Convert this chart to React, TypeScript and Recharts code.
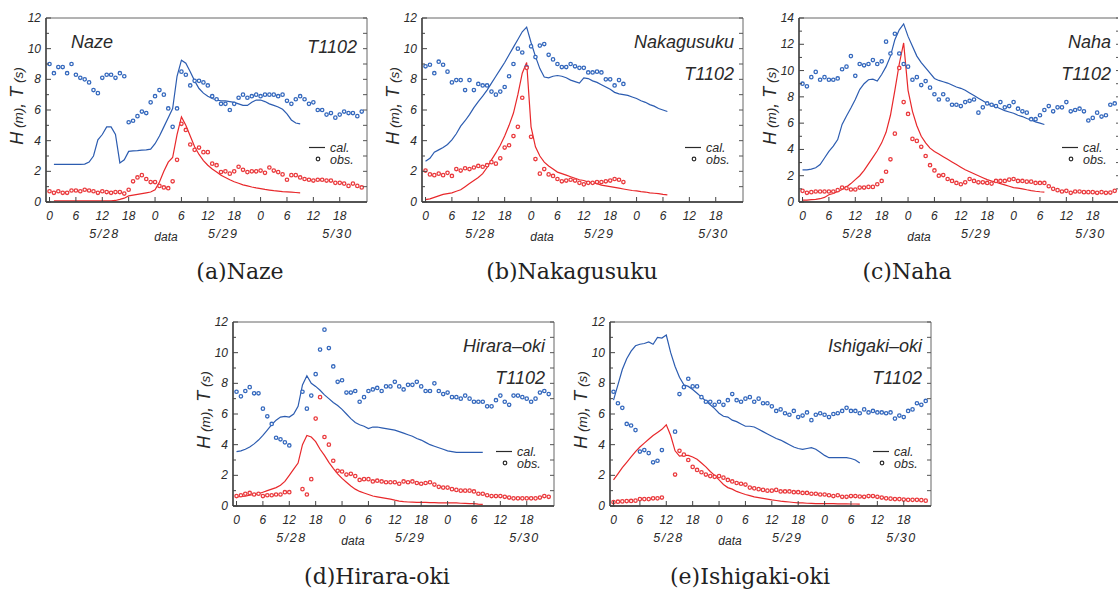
import React from "react";
import {
  ComposedChart,
  Line,
  Scatter,
  XAxis,
  YAxis,
  ReferenceArea,
  ReferenceLine,
  Legend,
} from "recharts";

// hours counted from 5/28 00:00 (JST)
const hourTicks = [0, 6, 12, 18, 24, 30, 36, 42, 48, 54, 60, 66];
const dateTicks = [12.5, 26.5, 39.5, 65.5];
const dateLabels = ["5/28", "data", "5/29", "5/30"];
const yTicks12 = [0, 1, 2, 3, 4, 5, 6, 7, 8, 9, 10, 11, 12];
const yTicks14 = [0, 1, 2, 3, 4, 5, 6, 7, 8, 9, 10, 11, 12, 13, 14];

// ---- (a) Naze : hourly obs from h0, cal from h1
const nazeObsT = [9.0, 8.4, 8.8, 8.8, 8.4, 9.0, 8.3, 8.1, 8.0, 7.8, 7.3, 7.1, 8.1, 8.3, 8.3, 8.1, 8.4, 8.2, 5.2, 5.3, 5.6, 5.9, 5.8, 6.5, 6.9, 7.3, 7.0, 6.1, 4.9, 6.1, 8.5, 8.3, 7.6, 7.9, 7.9, 7.8, 7.6, 6.9, 6.7, 6.4, 6.4, 6.0, 6.4, 6.8, 7.0, 6.8, 6.9, 7.0, 6.9, 7.0, 7.0, 7.0, 6.9, 7.0, 6.6, 6.4, 6.7, 6.9, 6.7, 6.4, 6.5, 6.0, 6.0, 5.7, 5.8, 5.5, 5.7, 5.9, 5.8, 5.8, 5.6, 5.9];
const nazeObsH = [0.7, 0.6, 0.7, 0.6, 0.6, 0.75, 0.75, 0.7, 0.8, 0.75, 0.7, 0.6, 0.7, 0.65, 0.6, 0.65, 0.65, 0.55, 0.8, 1.35, 1.6, 1.75, 1.5, 1.3, 1.3, 1.05, 0.95, 0.9, 1.35, 2.75, 5.1, 4.7, 3.75, 3.4, 3.55, 3.25, 3.25, 2.5, 2.4, 1.95, 2.0, 1.85, 2.0, 2.3, 2.1, 1.95, 2.0, 2.0, 2.05, 1.9, 2.25, 2.05, 1.95, 1.8, 1.45, 1.75, 1.75, 1.6, 1.5, 1.45, 1.4, 1.45, 1.45, 1.4, 1.4, 1.25, 1.25, 1.2, 1.05, 1.2, 1.05, 0.95];
const nazeCalT = [2.45, 2.45, 2.45, 2.45, 2.45, 2.45, 2.45, 2.47, 2.6, 3.0, 4.05, 4.4, 4.9, 4.9, 4.4, 2.55, 2.75, 3.3, 3.33, 3.35, 3.38, 3.4, 3.45, 3.8, 4.3, 4.9, 5.5, 6.1, 8.2, 9.25, 9.05, 8.5, 7.9, 7.4, 7.1, 6.9, 6.75, 6.65, 6.6, 6.6, 6.55, 6.5, 6.4, 6.3, 6.3, 6.5, 6.65, 6.65, 6.55, 6.4, 6.3, 6.2, 6.05, 5.75, 5.35, 5.15, 5.1];
const nazeCalH = [0.08, 0.08, 0.08, 0.08, 0.08, 0.08, 0.08, 0.08, 0.08, 0.08, 0.08, 0.08, 0.08, 0.08, 0.1, 0.17, 0.25, 0.4, 0.45, 0.5, 0.55, 0.6, 0.65, 0.8, 1.3, 2.0, 2.6, 2.9, 4.4, 5.55, 5.0, 4.3, 3.6, 3.1, 2.7, 2.4, 2.15, 1.95, 1.75, 1.6, 1.45, 1.32, 1.22, 1.12, 1.05, 0.98, 0.92, 0.87, 0.82, 0.78, 0.74, 0.71, 0.68, 0.66, 0.64, 0.62, 0.6];

// ---- (b) Nakagusuku
const nakaObsT = [8.85, 8.95, 8.4, 9.15, 8.95, 8.5, 7.8, 7.95, 7.95, 7.3, 7.95, 7.3, 7.7, 7.6, 7.6, 7.2, 7.0, 7.2, 7.5, 8.2, 9.0, 10.0, 9.75, 8.8, 10.15, 9.45, 10.2, 10.3, 9.6, 9.3, 9.0, 8.8, 8.8, 9.0, 8.85, 8.75, 8.75, 8.45, 8.45, 8.5, 8.45, 8.0, 8.0, 7.6, 7.95, 7.7];
const nakaObsH = [2.05, 1.8, 1.75, 1.85, 1.75, 1.9, 1.7, 2.15, 2.05, 2.2, 2.15, 2.25, 2.35, 2.3, 2.4, 2.6, 2.5, 2.85, 3.55, 3.7, 4.3, 4.9, 6.8, 8.75, 4.25, 2.8, 1.85, 2.15, 1.8, 1.7, 1.5, 1.35, 1.4, 1.45, 1.4, 1.25, 1.15, 1.25, 1.25, 1.3, 1.3, 1.35, 1.4, 1.5, 1.45, 1.3];
const nakaCalT = [2.65, 2.85, 3.25, 3.4, 3.55, 3.75, 4.05, 4.45, 4.95, 5.3, 5.7, 6.15, 6.55, 6.9, 7.3, 7.75, 8.2, 8.65, 9.1, 9.6, 10.1, 10.6, 11.1, 11.4, 10.4, 9.5, 8.7, 8.15, 8.1, 8.2, 8.25, 8.2, 8.1, 7.95, 7.85, 7.75, 8.1, 8.05, 7.9, 7.8, 7.65, 7.5, 7.35, 7.15, 7.05, 7.0, 6.95, 6.85, 6.75, 6.6, 6.5, 6.35, 6.25, 6.1, 6.0, 5.9];
const nakaCalH = [0.15, 0.2, 0.3, 0.4, 0.5, 0.55, 0.6, 0.7, 0.8, 1.0, 1.2, 1.4, 1.6, 1.85, 2.25, 2.75, 3.2, 3.7, 4.3, 5.0, 5.8, 7.0, 8.4, 9.1, 4.9, 3.6, 3.0, 2.6, 2.35, 2.15, 1.95, 1.85, 1.75, 1.65, 1.55, 1.45, 1.4, 1.3, 1.25, 1.2, 1.1, 1.05, 1.0, 0.95, 0.9, 0.85, 0.8, 0.75, 0.72, 0.68, 0.65, 0.6, 0.57, 0.54, 0.5, 0.47];

// ---- (c) Naha
const nahaObsT = [9.0, 8.8, 9.5, 9.9, 9.3, 9.5, 9.3, 9.3, 9.4, 10.1, 10.3, 11.1, 9.6, 10.5, 10.4, 10.5, 10.8, 10.5, 10.7, 12.2, 11.3, 12.8, 11.3, 10.5, 10.3, 9.3, 9.5, 8.9, 9.2, 8.7, 8.2, 7.8, 8.2, 7.8, 7.4, 7.4, 7.3, 7.6, 7.7, 7.8, 6.8, 7.2, 7.5, 7.4, 7.3, 7.6, 7.2, 7.3, 7.6, 7.1, 6.9, 6.8, 6.3, 6.3, 6.6, 7.0, 7.3, 6.9, 7.2, 7.2, 7.6, 6.9, 7.0, 7.1, 6.9, 6.2, 6.4, 6.8, 6.5, 6.6, 7.4, 7.5];
const nahaObsH = [0.85, 0.7, 0.75, 0.8, 0.8, 0.8, 0.8, 0.8, 0.9, 1.1, 1.05, 0.95, 0.95, 1.1, 1.1, 1.15, 1.15, 1.35, 1.6, 2.3, 3.25, 5.2, 10.2, 7.6, 6.7, 4.8, 4.65, 4.2, 3.5, 2.8, 2.4, 2.0, 2.05, 1.75, 1.6, 1.45, 1.35, 1.5, 1.75, 1.6, 1.5, 1.5, 1.45, 1.4, 1.6, 1.6, 1.6, 1.7, 1.75, 1.6, 1.6, 1.55, 1.55, 1.45, 1.45, 1.45, 1.2, 1.0, 0.9, 0.8, 0.85, 0.7, 0.8, 0.8, 0.75, 0.75, 0.75, 0.7, 0.75, 0.7, 0.72, 0.85];
const nahaCalT = [2.45, 2.45, 2.5, 2.6, 2.85, 3.35, 3.85, 4.25, 4.75, 5.9, 6.55, 7.15, 7.8, 8.55, 9.0, 9.3, 9.35, 9.2, 9.7, 10.3, 11.1, 12.35, 13.1, 13.55, 12.6, 11.85, 11.1, 10.6, 10.2, 9.8, 9.4, 9.25, 9.15, 9.05, 8.9, 8.75, 8.65, 8.5, 8.3, 8.1, 7.9, 7.7, 7.5, 7.35, 7.25, 7.1, 6.95, 6.85, 6.75, 6.6, 6.5, 6.35, 6.25, 6.1, 6.0, 5.9];
const nahaCalH = [0.15, 0.15, 0.18, 0.2, 0.25, 0.35, 0.55, 0.65, 0.8, 0.95, 1.15, 1.4, 1.7, 2.0, 2.4, 2.9, 3.4, 3.9, 4.5, 5.3, 6.6, 8.5, 10.5, 12.1, 8.5, 6.9, 5.8, 5.0, 4.5, 4.1, 3.85, 3.65, 3.45, 3.25, 3.05, 2.85, 2.65, 2.45, 2.3, 2.15, 2.0, 1.85, 1.7, 1.6, 1.5, 1.4, 1.3, 1.2, 1.1, 1.05, 1.0, 0.93, 0.87, 0.82, 0.78, 0.75];

// ---- (d) Hirara-oki
const hiraObsT = [7.45, 7.15, 7.5, 7.75, 7.35, 7.35, 6.35, 5.85, 5.35, 4.45, 4.35, 4.15, 3.95, null, null, 7.45, 6.35, 7.2, 8.6, 10.2, 11.5, 10.3, 9.1, 8.1, 8.2, 7.4, 7.4, 7.5, 6.8, 7.1, 7.5, 7.6, 7.7, 7.5, 7.8, 7.8, 8.1, 7.8, 7.6, 7.9, 7.9, 8.1, 7.8, 7.5, 7.5, 8.0, 7.5, 7.3, 7.4, 7.1, 7.1, 7.0, 7.2, 7.0, 6.8, 6.8, 6.8, 6.5, 6.5, 6.9, 7.2, 6.8, 6.6, 7.2, 7.2, 7.1, 7.0, 6.8, 7.0, 7.4, 7.5, 7.3];
const hiraObsH = [0.65, 0.7, 0.8, 0.85, 0.75, 0.8, 0.65, 0.7, 0.7, 0.75, 0.75, 0.9, 0.9, null, null, 1.1, 0.75, 1.75, 5.7, 7.1, 4.5, 4.0, 2.95, 2.3, 2.25, 2.05, 2.1, 1.95, 1.7, 1.75, 1.75, 1.6, 1.65, 1.6, 1.55, 1.55, 1.55, 1.45, 1.6, 1.55, 1.6, 1.5, 1.45, 1.5, 1.55, 1.4, 1.25, 1.2, 1.2, 1.1, 1.05, 1.0, 1.0, 1.0, 0.95, 0.8, 0.8, 0.7, 0.65, 0.65, 0.65, 0.6, 0.55, 0.5, 0.5, 0.5, 0.5, 0.5, 0.5, 0.55, 0.65, 0.6];
const hiraCalT = [3.55, 3.6, 3.7, 3.85, 4.05, 4.3, 4.6, 4.95, 5.3, 5.6, 5.8, 5.85, 5.8, 6.0, 6.5, 7.9, 8.5, 8.0, 7.8, 7.55, 7.25, 7.0, 6.75, 6.55, 6.3, 6.0, 5.7, 5.45, 5.3, 5.2, 5.05, 5.15, 5.15, 5.1, 5.05, 5.0, 4.95, 4.85, 4.75, 4.65, 4.55, 4.4, 4.3, 4.15, 4.0, 3.9, 3.8, 3.7, 3.6, 3.55, 3.5, 3.5, 3.5, 3.5, 3.5, 3.5, 3.5];
const hiraCalH = [0.6, 0.62, 0.65, 0.7, 0.75, 0.8, 0.9, 1.0, 1.1, 1.2, 1.35, 1.6, 2.0, 2.4, 2.8, 4.0, 4.6, 4.5, 4.2, 3.7, 3.3, 2.85, 2.45, 2.1, 1.8, 1.55, 1.3, 1.1, 0.95, 0.85, 0.75, 0.65, 0.6, 0.55, 0.5, 0.45, 0.38, 0.32, 0.28, 0.26, 0.25, 0.24, 0.24, 0.23, 0.22, 0.22, 0.21, 0.2, 0.2, 0.2, 0.2, 0.18, 0.17, 0.16, 0.15, 0.12, 0.1];

// ---- (e) Ishigaki-oki
const ishiObsT = [7.45, 6.7, 6.4, 5.35, 5.25, 4.95, 3.55, 3.65, 3.45, 2.85, 2.95, 3.65, null, null, 4.85, 7.3, 7.75, 8.3, 7.8, 7.8, 7.1, 6.8, 6.8, 6.6, 6.8, 6.6, 6.9, 7.3, 6.9, 6.8, 7.0, 7.1, 6.8, 7.0, 6.7, 6.7, 6.5, 6.2, 6.3, 6.05, 5.95, 6.2, 5.8, 5.9, 6.1, 5.6, 5.95, 6.05, 5.95, 5.8, 6.0, 6.05, 6.2, 6.4, 6.2, 6.2, 6.05, 6.3, 6.1, 6.2, 6.1, 6.1, 6.05, 6.1, 5.7, 5.9, 5.8, 6.2, 6.3, 6.7, 6.6, 6.85];
const ishiObsH = [0.25, 0.28, 0.3, 0.32, 0.33, 0.35, 0.45, 0.45, 0.45, 0.5, 0.5, 0.55, null, null, 2.05, 3.6, 3.35, 3.0, 2.55, 2.35, 2.2, 2.05, 1.95, 1.9, 1.95, 1.85, 1.7, 1.6, 1.5, 1.45, 1.4, 1.2, 1.15, 1.1, 1.05, 1.0, 1.0, 1.05, 0.95, 0.95, 0.95, 0.9, 0.9, 0.85, 0.85, 0.8, 0.8, 0.75, 0.75, 0.7, 0.65, 0.7, 0.6, 0.6, 0.65, 0.65, 0.62, 0.6, 0.65, 0.65, 0.6, 0.55, 0.5, 0.48, 0.45, 0.45, 0.42, 0.4, 0.4, 0.4, 0.38, 0.35];
const ishiCalT = [6.9, 7.9, 8.9, 9.6, 10.1, 10.45, 10.55, 10.6, 10.7, 10.55, 11.0, 10.95, 11.15, 10.0, 9.1, 8.4, 7.9, 7.8, 7.6, 7.35, 7.1, 6.85, 6.6, 6.35, 6.05, 5.85, 5.8, 5.6, 5.5, 5.35, 5.2, 5.2, 5.15, 5.0, 4.85, 4.7, 4.55, 4.4, 4.3, 4.15, 4.0, 3.85, 3.75, 3.7, 3.75, 3.8, 3.7, 3.5, 3.3, 3.15, 3.15, 3.15, 3.15, 3.15, 3.1, 3.0, 2.8];
const ishiCalH = [1.7, 2.1, 2.5, 2.85, 3.2, 3.55, 3.85, 4.1, 4.35, 4.6, 4.8, 5.0, 5.3, 4.6, 3.6, 3.25, 3.3, 3.3, 3.2, 3.05, 2.8, 2.55, 2.25, 2.0, 1.7, 1.4, 1.2, 1.1, 0.95, 0.85, 0.75, 0.68, 0.6, 0.55, 0.5, 0.45, 0.4, 0.36, 0.32, 0.29, 0.26, 0.23, 0.2, 0.2, 0.18, 0.17, 0.16, 0.15, 0.15, 0.15, 0.15, 0.14, 0.14, 0.14, 0.13, 0.13, 0.12];

const BLUE = "#2c5cb0";
const RED = "#e8282b";
const OBS_BLUE = "#3468bd";
const OBS_RED = "#ea3a3d";
const INK = "#2a2a2a";
const SANS = "'Liberation Sans', Arial, sans-serif";

const PLOT_W = 321;
const PLOT_H = 184;
const AX_W = 46;
const TOP = 18;
const CHART_W = AX_W + PLOT_W + 12;
const CHART_H = TOP + PLOT_H + 50;
const X_DOMAIN: [number, number] = [-0.8, 72.2];

type Pt = { h: number; v: number };
const toPoints = (vals: (number | null)[], start = 0): Pt[] =>
  vals
    .map((v, i) => ({ h: start + i, v }))
    .filter((p) => p.v !== null) as Pt[];

const stations = [
  { id: "a", name: "Naze", caption: "(a)Naze", yMax: 12, yTicks: yTicks12, obsT: nazeObsT, obsH: nazeObsH, calT: nazeCalT, calH: nazeCalH, calStart: 1 },
  { id: "b", name: "Nakagusuku", caption: "(b)Nakagusuku", yMax: 12, yTicks: yTicks12, obsT: nakaObsT, obsH: nakaObsH, calT: nakaCalT, calH: nakaCalH, calStart: 0 },
  { id: "c", name: "Naha", caption: "(c)Naha", yMax: 14, yTicks: yTicks14, obsT: nahaObsT, obsH: nahaObsH, calT: nahaCalT, calH: nahaCalH, calStart: 0 },
  { id: "d", name: "Hirara\u2013oki", caption: "(d)Hirara-oki", yMax: 12, yTicks: yTicks12, obsT: hiraObsT, obsH: hiraObsH, calT: hiraCalT, calH: hiraCalH, calStart: 0 },
  { id: "e", name: "Ishigaki\u2013oki", caption: "(e)Ishigaki-oki", yMax: 12, yTicks: yTicks12, obsT: ishiObsT, obsH: ishiObsH, calT: ishiCalT, calH: ishiCalH, calStart: 0 },
];

// where each plot area sits on the page, and where its caption goes
const layout: Record<string, { left: number; top: number; capX: number; capY: number; nameLeft?: boolean }> = {
  a: { left: 46, top: 18, capX: 240, capY: 272, nameLeft: true },
  b: { left: 422, top: 18, capX: 572, capY: 272 },
  c: { left: 799, top: 18, capX: 907, capY: 272 },
  d: { left: 233, top: 322, capX: 377, capY: 577 },
  e: { left: 610, top: 322, capX: 750, capY: 577 },
};

const YTick = (p: any) => {
  const { x, y, payload } = p;
  const v = payload.value;
  const major = v % 2 === 0;
  return (
    <g>
      <line x1={x} x2={x + (major ? 5 : 3)} y1={y} y2={y} stroke="#444" strokeWidth={1} />
      <line x1={x + PLOT_W - 4} x2={x + PLOT_W} y1={y} y2={y} stroke="#555" strokeWidth={1} />
      {major && (
        <text x={x - 5} y={y} dy={4} textAnchor="end" fill={INK} fontFamily={SANS} fontStyle="italic" fontSize={12}>
          {v}
        </text>
      )}
    </g>
  );
};

const XTick = (p: any) => {
  const { x, y, payload } = p;
  return (
    <g>
      <line x1={x} x2={x} y1={y} y2={y - 5} stroke="#444" strokeWidth={1} />
      <text x={x} y={y + 17.5} textAnchor="middle" fill={INK} fontFamily={SANS} fontStyle="italic" fontSize={12}>
        {payload.value % 24}
      </text>
    </g>
  );
};

const YLabel = () => {
  const cx = 17;
  const cy = TOP + 88;
  return (
    <text
      x={cx}
      y={cy}
      transform={`rotate(-90, ${cx}, ${cy})`}
      textAnchor="middle"
      dy={6}
      fill={INK}
      fontFamily={SANS}
      fontStyle="italic"
    >
      <tspan fontSize={18}>H</tspan>
      <tspan fontSize={13.5}> (m)</tspan>
      <tspan fontSize={18}>, T</tspan>
      <tspan fontSize={13.5}> (s)</tspan>
    </text>
  );
};

const LegendBox = () => (
  <svg width={64} height={32} style={{ display: "block", overflow: "visible" }}>
    <line x1={5} x2={21} y1={9.5} y2={9.5} stroke={INK} strokeWidth={1.2} />
    <circle cx={14} cy={21} r={1.8} fill="#fff" stroke={INK} strokeWidth={1.2} />
    <text x={26} y={13.5} fill={INK} fontFamily={SANS} fontStyle="italic" fontSize={12.5}>cal.</text>
    <text x={26} y={26} fill={INK} fontFamily={SANS} fontStyle="italic" fontSize={12.5}>obs.</text>
  </svg>
);

const ring = (color: string) => (p: any) =>
  p.cx == null ? <g /> : <circle cx={p.cx} cy={p.cy} r={1.7} fill="#fff" stroke={color} strokeWidth={1.3} />;

function Panel({ st }: { st: (typeof stations)[number] }) {
  const pos = layout[st.id];
  const plotRight = AX_W + PLOT_W;
  return (
    <>
      <div style={{ position: "absolute", left: pos.left - AX_W, top: pos.top - TOP, width: CHART_W, height: CHART_H }}>
        <ComposedChart width={CHART_W} height={CHART_H} margin={{ top: TOP, right: 12, bottom: 0, left: 0 }}>
          <XAxis
            dataKey="h"
            type="number"
            domain={X_DOMAIN}
            allowDataOverflow
            ticks={hourTicks}
            interval={0}
            height={50}
            tickSize={0}
            tickMargin={0}
            tickLine={false}
            axisLine={{ stroke: "#333", strokeWidth: 1.3 }}
            tick={XTick}
          />
          <YAxis
            type="number"
            domain={[0, st.yMax]}
            allowDataOverflow
            ticks={st.yTicks}
            interval={0}
            width={AX_W}
            tickSize={0}
            tickMargin={0}
            tickLine={false}
            axisLine={{ stroke: "#333", strokeWidth: 1.3 }}
            tick={YTick}
            label={{ content: () => <YLabel /> }}
          />
          <ReferenceArea x1={X_DOMAIN[0]} x2={X_DOMAIN[1]} y1={0} y2={st.yMax} fill="none" stroke="#666" strokeWidth={1} />
          {dateTicks.map((d, i) => {
            const word = dateLabels[i] === "data";
            return (
              <ReferenceLine
                key={d}
                x={d}
                stroke="none"
                label={{
                  value: dateLabels[i],
                  position: "bottom",
                  offset: word ? 30 : 27.5,
                  fill: INK,
                  fontFamily: SANS,
                  fontStyle: "italic",
                  fontSize: word ? 12 : 12.5,
                  letterSpacing: word ? 0 : 1.5,
                }}
              />
            );
          })}
          <Legend
            layout="vertical"
            align="center"
            verticalAlign="middle"
            content={LegendBox}
            wrapperStyle={{ left: AX_W + 258, top: TOP + 120, width: 64 }}
          />
          <Line data={toPoints(st.calT, st.calStart)} dataKey="v" type="linear" stroke={BLUE} strokeWidth={1.2} dot={false} isAnimationActive={false} />
          <Line data={toPoints(st.calH, st.calStart)} dataKey="v" type="linear" stroke={RED} strokeWidth={1.2} dot={false} isAnimationActive={false} />
          <Scatter data={toPoints(st.obsT)} dataKey="v" shape={ring(OBS_BLUE)} isAnimationActive={false} />
          <Scatter data={toPoints(st.obsH)} dataKey="v" shape={ring(OBS_RED)} isAnimationActive={false} />
        </ComposedChart>
        <svg
          width={CHART_W}
          height={CHART_H}
          style={{ position: "absolute", left: 0, top: 0, pointerEvents: "none" }}
          fontFamily={SANS}
          fontStyle="italic"
          fill={INK}
        >
          {pos.nameLeft ? (
            <>
              <text x={AX_W + 25} y={TOP + 30} fontSize={18}>{st.name}</text>
              <text x={plotRight - 10} y={TOP + 35} fontSize={18} textAnchor="end">T1102</text>
            </>
          ) : (
            <>
              <text x={plotRight - 9} y={TOP + 30} fontSize={18} textAnchor="end">{st.name}</text>
              <text x={plotRight - 9} y={TOP + 62} fontSize={18} textAnchor="end">T1102</text>
            </>
          )}
        </svg>
      </div>
      <div
        style={{
          position: "absolute",
          left: pos.capX - 150,
          top: pos.capY - 15,
          width: 300,
          height: 30,
          lineHeight: "30px",
          textAlign: "center",
          fontFamily: "'DejaVu Serif', serif",
          fontSize: 22,
          color: "#222",
          whiteSpace: "nowrap",
        }}
      >
        {st.caption}
      </div>
    </>
  );
}

export default function App() {
  return (
    <div style={{ position: "absolute", left: 0, top: 0, width: 1118, height: 590, overflow: "hidden", background: "#fff" }}>
      {stations.map((st) => (
        <Panel key={st.id} st={st} />
      ))}
    </div>
  );
}
